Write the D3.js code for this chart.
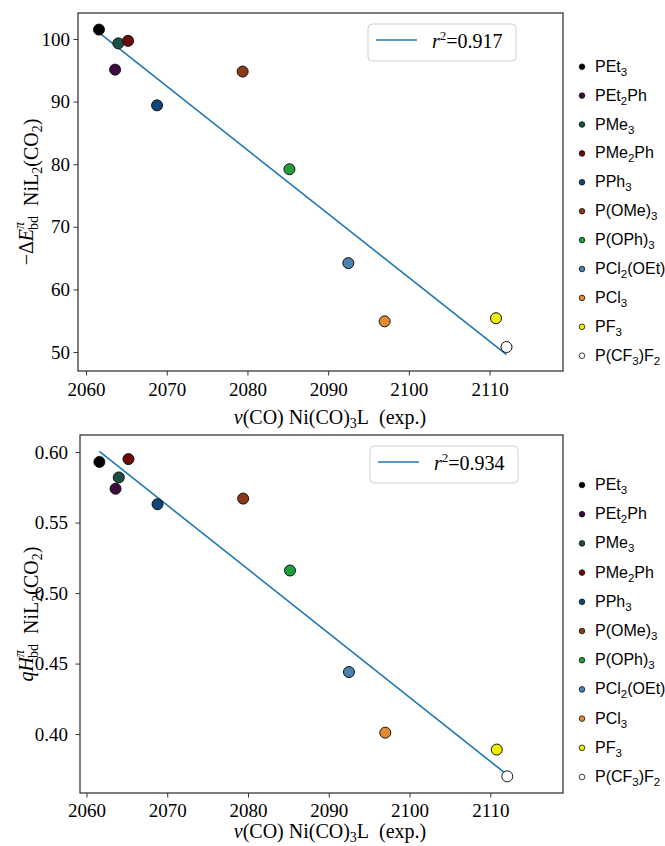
<!DOCTYPE html>
<html>
<head>
    <title></title>
    <script src="https://cdn.jsdelivr.net/npm/d3@7"></script>
    <style>
        body { margin: 0; background: #ffffff; }
        .tick text { font-family: "Liberation Serif", serif; font-size: 19px; fill: #000; }
        .axlabel { font-family: "Liberation Serif", serif; font-size: 20px; fill: #000; }
        .leg { font-family: "Liberation Sans", Arial, sans-serif; font-size: 16px; fill: #000; }
    </style>
</head>
<body>
<script type="text/javascript">

    // ligands, in legend order
    var ligands = ["PEt3", "PEt2Ph", "PMe3", "PMe2Ph", "PPh3", "P(OMe)3",
                   "P(OPh)3", "PCl2(OEt)", "PCl3", "PF3", "P(CF3)F2"];
    var ligandColors = ["#000000", "#3d0b42", "#1d4f49", "#6b0a0a", "#0b477a", "#8a3a16",
                        "#1f9e3c", "#4c82b2", "#e38b32", "#eeee00", "#ffffff"];
    // nu(CO) of Ni(CO)3L (exp.)
    var nuCO = [2061.6, 2063.6, 2064.0, 2065.2, 2068.8, 2079.4,
                2085.2, 2092.5, 2097.0, 2110.8, 2112.1];
    // -dE_bd^pi of NiL2(CO2)
    var dEpi = [101.5, 95.1, 99.3, 99.7, 89.4, 94.8,
                79.2, 64.2, 54.9, 55.4, 50.8];
    // qH_bd^pi of NiL2(CO2)
    var qHpi = [0.593, 0.574, 0.582, 0.595, 0.563, 0.567,
                0.516, 0.444, 0.401, 0.389, 0.370];
    var r2Labels = ["0.917", "0.934"];
    var xTicks = [2060, 2070, 2080, 2090, 2100, 2110];
    var yTicksTop = [50, 60, 70, 80, 90, 100];
    var yTicksBottom = [0.40, 0.45, 0.50, 0.55, 0.60];

    var W = 665, H = 846;
    var svg = d3.select("body").append("svg")
            .attr("width", W)
            .attr("height", H);

    function linFit(xs, ys) {
        var mx = d3.mean(xs), my = d3.mean(ys), sxy = 0, sxx = 0;
        xs.forEach(function (x, i) {
            sxy += (x - mx) * (ys[i] - my);
            sxx += (x - mx) * (x - mx);
        });
        var b = sxy / sxx;
        return { b: b, a: my - b * mx };
    }

    function drawPanel(p) {
        var g = svg.append("g");
        var x = d3.scaleLinear().domain(p.xDomain).range([p.left, p.right]);
        var y = d3.scaleLinear().domain(p.yDomain).range([p.bottom, p.top]);

        // x axis
        var gx = g.append("g")
                .attr("transform", "translate(0," + p.bottom + ")")
                .call(d3.axisBottom(x).tickValues(xTicks).tickSize(4.5).tickPadding(p.xPad)
                        .tickFormat(d3.format("d")));
        // y axis
        var gy = g.append("g")
                .attr("transform", "translate(" + p.left + ",0)")
                .call(d3.axisLeft(y).tickValues(p.yTicks).tickSize(4.5).tickPadding(p.yPad)
                        .tickFormat(p.yFormat));
        [gx, gy].forEach(function (a) {
            a.select(".domain").remove();
            a.selectAll(".tick line").attr("stroke", "#333").attr("stroke-width", 1);
        });

        // frame
        g.append("rect")
                .attr("x", p.left).attr("y", p.top)
                .attr("width", p.right - p.left).attr("height", p.bottom - p.top)
                .attr("fill", "none").attr("stroke", "#3a3a3a").attr("stroke-width", 1.3);

        // fit line
        var fit = linFit(nuCO, p.values);
        var x0 = d3.min(nuCO), x1 = d3.max(nuCO);
        g.append("line")
                .attr("x1", x(x0)).attr("y1", y(fit.a + fit.b * x0))
                .attr("x2", x(x1)).attr("y2", y(fit.a + fit.b * x1))
                .attr("stroke", "#1f77b4").attr("stroke-width", 1.6);

        // points
        g.selectAll("circle.pt")
                .data(p.values)
                .enter()
                .append("circle")
                .attr("class", "pt")
                .attr("cx", function (d, i) { return x(nuCO[i]); })
                .attr("cy", function (d) { return y(d); })
                .attr("r", 5.5)
                .attr("fill", function (d, i) { return ligandColors[i]; })
                .attr("stroke", "#111")
                .attr("stroke-width", 1);

        // r^2 legend box
        var lg = g.append("g").attr("transform", "translate(" + (p.left + 290) + "," + (p.top + 11) + ")");
        lg.append("rect")
                .attr("width", 148).attr("height", 37).attr("rx", 4)
                .attr("fill", "#fff").attr("stroke", "#d0d0d0").attr("stroke-width", 1);
        lg.append("line")
                .attr("x1", 8).attr("x2", 49).attr("y1", 16).attr("y2", 16)
                .attr("stroke", "#1f77b4").attr("stroke-width", 1.6);
        var rt = lg.append("text").attr("class", "axlabel").attr("x", 64).attr("y", 24);
        rt.append("tspan").attr("font-style", "italic").text("r");
        rt.append("tspan").attr("font-size", 13).attr("dy", -8).text("2");
        rt.append("tspan").attr("dy", 8).text("=" + p.r2);

        // x label
        var xl = g.append("text").attr("class", "axlabel")
                .attr("x", 330).attr("y", p.bottom + p.xLabelDy)
                .attr("text-anchor", "middle");
        xl.append("tspan").attr("font-style", "italic").text("ν");
        xl.append("tspan").text("(CO) Ni(CO)");
        xl.append("tspan").attr("font-size", 14).attr("dy", 4).text("3");
        xl.append("tspan").attr("dy", -4).text("L");
        xl.append("tspan").attr("dx", 10).text("(exp.)");

        // y label
        var yl = g.append("text").attr("class", "axlabel")
                .attr("transform", "translate(" + p.yLabelX + "," + ((p.top + p.bottom) / 2) + ") rotate(-90)")
                .attr("text-anchor", "middle");
        p.yLabel(yl);
        yl.append("tspan").attr("dx", 10).text("NiL");
        yl.append("tspan").attr("font-size", 14).attr("dy", 4).text("2");
        yl.append("tspan").attr("dy", -4).text("(CO");
        yl.append("tspan").attr("font-size", 14).attr("dy", 4).text("2");
        yl.append("tspan").attr("dy", -4).text(")");

        // ligand legend (outside right)
        var rows = g.selectAll("g.row")
                .data(ligands)
                .enter()
                .append("g")
                .attr("class", "row")
                .attr("transform", function (d, i) {
                    return "translate(582," + (p.legTop + i * p.legStep) + ")";
                });
        rows.append("circle")
                .attr("r", 2.8)
                .attr("fill", function (d, i) { return ligandColors[i]; })
                .attr("stroke", "#111").attr("stroke-width", 0.8);
        rows.each(function (d) {
            var t = d3.select(this).append("text").attr("class", "leg")
                    .attr("x", 13).attr("y", 5);
            var sub = false;
            d.split(/(\d+)/).forEach(function (s) {
                if (!s) return;
                var isNum = /^\d+$/.test(s);
                var ts = t.append("tspan").text(s);
                if (isNum && !sub) { ts.attr("dy", 4).attr("font-size", 11.5); sub = true; }
                else if (!isNum && sub) { ts.attr("dy", -4); sub = false; }
            });
        });
    }

    function bdScript(t) {
        t.append("tspan").attr("font-size", 14).attr("font-style", "italic").attr("dy", -9).text("π");
        t.append("tspan").attr("font-size", 14).attr("dx", -8).attr("dy", 14).text("bd");
        t.append("tspan").attr("dy", -5).text("");
    }

    drawPanel({
        left: 78, right: 563, top: 13, bottom: 371,
        xDomain: [2059.0, 2119.1], yDomain: [46.97, 104.15],
        yTicks: yTicksTop, yFormat: d3.format("d"),
        values: dEpi, r2: r2Labels[0],
        xPad: 7, yPad: 3.5, xLabelDy: 53, yLabelX: 33,
        legTop: 66.7, legStep: 28.9,
        yLabel: function (t) {
            t.append("tspan").text("−Δ");
            t.append("tspan").attr("font-style", "italic").text("E");
            bdScript(t);
        }
    });

    drawPanel({
        left: 80, right: 563, top: 435, bottom: 793,
        xDomain: [2059.2, 2119.0], yDomain: [0.3582, 0.6121],
        yTicks: yTicksBottom, yFormat: d3.format(".2f"),
        values: qHpi, r2: r2Labels[1],
        xPad: 6.5, yPad: 7.5, xLabelDy: 45, yLabelX: 33,
        legTop: 485, legStep: 29.2,
        yLabel: function (t) {
            t.append("tspan").attr("font-style", "italic").text("qH");
            bdScript(t);
        }
    });
</script>
</body>
</html>
